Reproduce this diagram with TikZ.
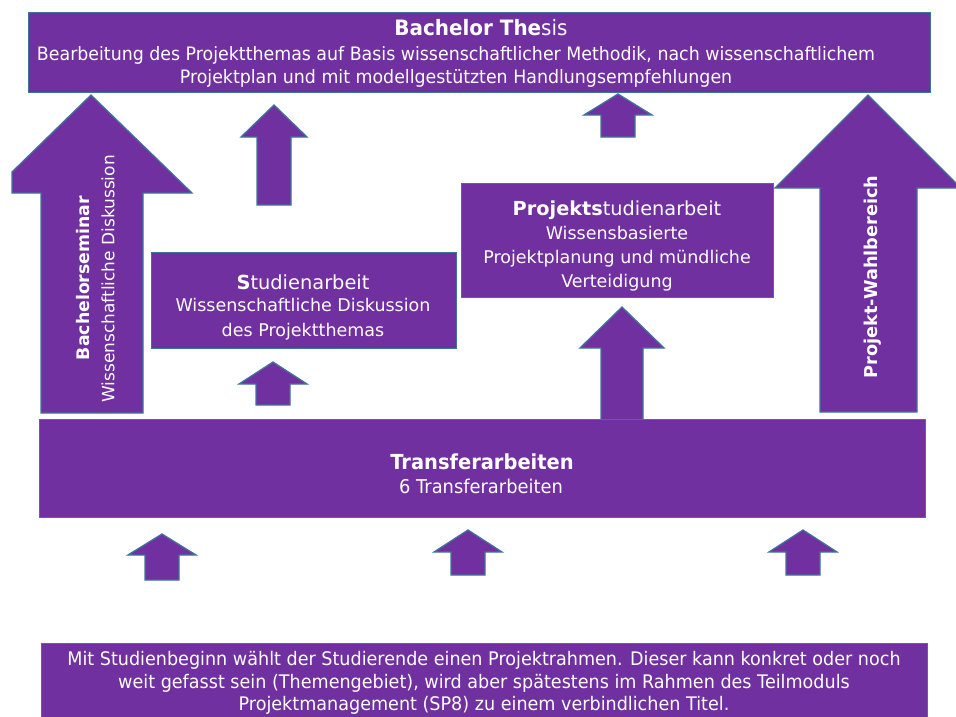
\documentclass[tikz,border=0pt]{standalone}
\usepackage{fontspec}
\setmainfont{DejaVu Sans}
\newfontfamily\narrowf[FakeStretch=0.94]{DejaVu Sans}
\definecolor{boxpurple}{HTML}{7030A0}
\definecolor{boxedge}{HTML}{41719C}
\newcommand{\myUpArrow}[6]{%
  \draw[blk] (#1-#5,#6) -- (#1-#5,#4) -- (#1-#3,#4) -- (#1,#2) -- (#1+#3,#4) -- (#1+#5,#4) -- (#1+#5,#6) -- cycle;}
\begin{document}
\begin{tikzpicture}[x=1pt,y=-1pt,
  blk/.style={fill=boxpurple,draw=boxedge,line width=1.3pt,line join=miter},
  boxnode/.style={blk,rectangle,inner sep=0pt,anchor=north west},
  txt/.style={text=white,inner sep=0pt,align=center},
  ]
\useasboundingbox (0,0) rectangle (956,716);
\clip (0,0) rectangle (956,716);
% big side arrows
\draw[blk] (41,413) -- (41,193) -- (12,193) -- (12,172) -- (91,95) -- (192,193) -- (143,193) -- (143,413) -- cycle;
\draw[blk] (820,412) -- (820,188) -- (775,188) -- (868,95) -- (961,188) -- (917,188) -- (917,412) -- cycle;
% small arrows
\myUpArrow{274}{105}{33}{137}{17}{205}
\myUpArrow{618}{94}{34}{115}{17}{137}
\myUpArrow{273}{362}{34}{384}{17}{405}
\myUpArrow{622}{307}{42}{348}{21}{426}
\myUpArrow{162}{534}{34}{555}{17}{580}
\myUpArrow{468}{530}{34}{552}{17}{575}
\myUpArrow{803}{530}{34}{552}{17}{575}
% boxes
\node[boxnode,minimum width=902pt,minimum height=80pt] (thesis) at (28,12) {};
\node[boxnode,minimum width=305pt,minimum height=96pt] (studien) at (151,252) {};
\node[boxnode,minimum width=312pt,minimum height=114pt] (projekt) at (461,183) {};
\node[boxnode,minimum width=886pt,minimum height=98pt] (transfer) at (39,419) {};
\node[boxnode,minimum width=886pt,minimum height=80pt] (rahmen) at (41,643) {};
% texts
\node[txt,font=\narrowf\fontsize{21.2}{23}\selectfont] (thesisT) at (481,28) {\textbf{Bachelor The}sis};
\node[txt,font=\narrowf\fontsize{18.5}{23}\selectfont] (thesisL) at (456,67)
  {Bearbeitung des Projektthemas auf Basis wissenschaftlicher Methodik, nach wissenschaftlichem\\
   Projektplan und mit modellgestützten Handlungsempfehlungen};
\node[txt,font=\fontsize{19.4}{24.5}\selectfont] (studT) at (303,282) {\textbf{S}tudienarbeit};
\node[txt,font=\fontsize{17.5}{24.5}\selectfont] (studL) at (303,319)
  {Wissenschaftliche Diskussion\\des Projektthemas};
\node[txt,font=\fontsize{19.3}{24}\selectfont] (projT) at (617,210) {\textbf{Projekts}tudienarbeit};
\node[txt,font=\fontsize{17.5}{24}\selectfont] (projL) at (617,259)
  {Wissensbasierte\\Projektplanung und mündliche\\Verteidigung};
\node[txt,font=\narrowf\fontsize{20.7}{23}\selectfont\bfseries] (transT) at (482,462) {Transferarbeiten};
\node[txt,font=\narrowf\fontsize{19}{23}\selectfont] (transL) at (481,486) {6 Transferarbeiten};
\node[txt,font=\narrowf\fontsize{18.7}{22.5}\selectfont] (rahmenT) at (484,683)
  {Mit Studienbeginn wählt der Studierende einen Projektrahmen. Dieser kann konkret oder noch\\
   weit gefasst sein (Themengebiet), wird aber spätestens im Rahmen des Teilmoduls\\
   Projektmanagement (SP8) zu einem verbindlichen Titel.};
\node[txt,rotate=90,font=\fontsize{17.3}{20}\selectfont\bfseries] (semT) at (83,278) {Bachelorseminar};
\node[txt,rotate=90,font=\fontsize{17}{20}\selectfont] (semL) at (108,279) {Wissenschaftliche Diskussion};
\node[txt,rotate=90,font=\fontsize{17.7}{20}\selectfont\bfseries] (wahlT) at (873,277) {Projekt-Wahlbereich};
\end{tikzpicture}
\end{document}
